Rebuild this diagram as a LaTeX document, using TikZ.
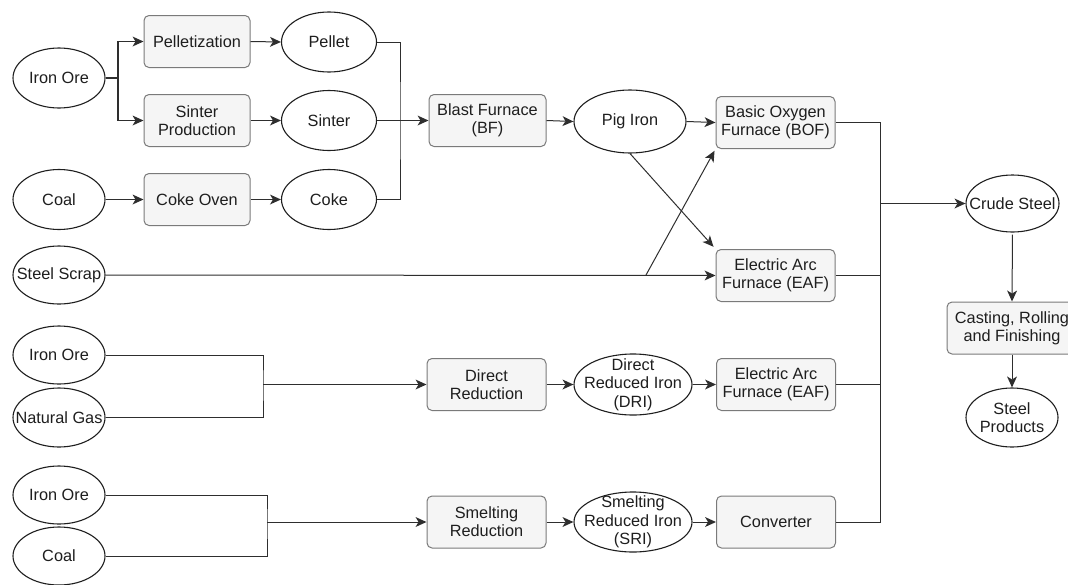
\documentclass[tikz,border=0pt]{standalone}
\usepackage{fontspec}
\setmainfont{Liberation Sans}
\usetikzlibrary{shapes.geometric,arrows.meta}
\definecolor{boxfill}{HTML}{F5F5F5}
\definecolor{boxline}{HTML}{7A7A7A}
\definecolor{ink}{HTML}{1E1E1E}
\definecolor{wire}{HTML}{2E2E2E}
\tikzset{tipshape/.tip={Stealth[length=11pt,width=10pt,inset=3pt,line width=0pt]}}
\begin{document}
\begin{tikzpicture}[x=1pt,y=-1pt,
  every node/.style={font=\fontsize{16.3}{18.3}\selectfont, text=ink},
  procbox/.style={rectangle, rounded corners=5pt, draw=boxline, fill=boxfill, line width=1pt,
    minimum width=#1, minimum height=52pt, inner sep=0pt, align=center},
  procbox/.default=119pt,
  oval/.style n args={3}{ellipse, draw=ink, fill=white, line width=1.1pt,
    minimum width=#1, minimum height=#2, inner sep=0pt,
    label={[align=center, inner sep=0pt]center:{#3}}},
  wire/.style={draw=wire, line width=1pt},
  arr/.style={wire, -tipshape},
  thickwire/.style={draw=wire, line width=1.7pt},
  thickarr/.style={thickwire, -tipshape},
]
\useasboundingbox (0,0) rectangle (1068,584);

% ---------- nodes ----------
\node[oval={92pt}{60pt}{Iron Ore}] (ore1) at (59,78) {};
\node[procbox=106pt] (pell) at (197,41.5) {Pelletization};
\node[oval={95pt}{60pt}{Pellet}] (pellet) at (329,42) {};
\node[procbox=106pt] (sinterp) at (197,120.5) {Sinter\\Production};
\node[oval={95pt}{60pt}{Sinter}] (sinter) at (329,120.5) {};
\node[oval={92pt}{60pt}{Coal}] (coal1) at (59,199.5) {};
\node[procbox=106pt] (cokeoven) at (197,199.5) {Coke Oven};
\node[oval={95pt}{60pt}{Coke}] (coke) at (329,199.5) {};
\node[oval={92pt}{58pt}{Steel Scrap}] (scrap) at (59,275) {};

\node[procbox=117pt] (bf) at (487.5,120.5) {Blast Furnace\\(BF)};
\node[oval={112pt}{63pt}{Pig Iron}] (pig) at (630,121.5) {};
\node[procbox] (bof) at (775.5,122.5) {Basic Oxygen\\Furnace (BOF)};
\node[procbox] (eaf1) at (775.5,275.5) {Electric Arc\\Furnace (EAF)};

\node[oval={92pt}{58pt}{Iron Ore}] (ore2) at (59,355) {};
\node[oval={92pt}{59pt}{Natural Gas}] (gas) at (59,417.5) {};
\node[procbox] (dr) at (486.5,384.5) {Direct\\Reduction};
\node[oval={118pt}{61pt}{Direct\\Reduced Iron\\(DRI)}] (dri) at (633,384.5) {};
\node[procbox] (eaf2) at (776,384.5) {Electric Arc\\Furnace (EAF)};

\node[oval={92pt}{58pt}{Iron Ore}] (ore3) at (59,495) {};
\node[oval={92pt}{58pt}{Coal}] (coal2) at (59,556) {};
\node[procbox] (sr) at (486.5,522) {Smelting\\Reduction};
\node[oval={118pt}{60pt}{Smelting\\Reduced Iron\\(SRI)}] (sri) at (633,522) {};
\node[procbox] (conv) at (776,522) {Converter};

\node[oval={93pt}{57pt}{Crude Steel}] (crude) at (1012.5,203.5) {};
\node[procbox=130pt] (cast) at (1012,328) {Casting, Rolling\\and Finishing};
\node[oval={92pt}{59pt}{Steel\\Products}] (prod) at (1012,417.5) {};

% ---------- junction coordinates ----------
\coordinate (ja) at (118,78);
\coordinate (jb) at (400,120.5);
\coordinate (js) at (646,275);
\coordinate (jc) at (880,203.5);
\coordinate (jd) at (263,384.5);
\coordinate (je) at (267,522);

% ---------- connectors ----------
\draw[thickwire] (ore1.east) -- (ja);
\draw[thickarr] (ja) |- (pell.west);
\draw[thickarr] (ja) |- (sinterp.west);
\draw[arr] (pell.east) -- (pellet.west);
\draw[arr] (sinterp.east) -- (sinter.west);
\draw[arr] (coal1.east) -- (cokeoven.west);
\draw[arr] (cokeoven.east) -- (coke.west);

\draw[wire] (pellet.east) -| (jb) |- (coke.east);
\draw[thickarr] (sinter.east) -- (bf.west);
\draw[arr] (bf.east) -- (pig.west);
\draw[arr] (pig.east) -- (bof.west);
\draw[arr, shorten >=3pt] (pig.south) -- (eaf1.north west);
\draw[arr] (scrap.east) -- (eaf1.west);
\draw[arr, shorten >=2pt] (js) -- (bof.south west);

\draw[wire] (bof.east) -| (jc);
\draw[wire] (conv.east) -| (jc);
\draw[wire] (eaf1.east) -- (eaf1.east -| jc);
\draw[wire] (eaf2.east) -- (eaf2.east -| jc);
\draw[thickarr] (jc) -- (crude.west);

\draw[wire] (ore2.east) -| (jd) |- (gas.east);
\draw[arr] (jd) -- (dr.west);
\draw[arr] (dr.east) -- (dri.west);
\draw[arr] (dri.east) -- (eaf2.west);

\draw[wire] (ore3.east) -| (je) |- (coal2.east);
\draw[arr] (je) -- (sr.west);
\draw[arr] (sr.east) -- (sri.west);
\draw[arr] (sri.east) -- (conv.west);

\draw[arr, shorten <=2pt] (crude.south) -- (cast.north);
\draw[arr] (cast.south) -- (prod.north);
\end{tikzpicture}
\end{document}
